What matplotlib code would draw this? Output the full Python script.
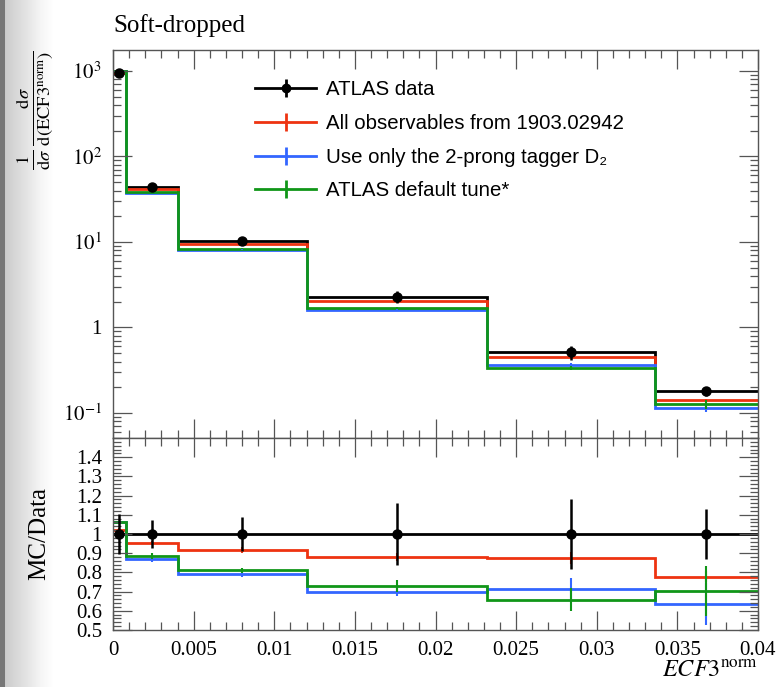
import matplotlib
matplotlib.use('Agg')
import matplotlib.pyplot as plt
import numpy as np
from matplotlib.lines import Line2D
from matplotlib.legend_handler import HandlerTuple
from matplotlib.ticker import MultipleLocator, FixedLocator, FuncFormatter, LogLocator, NullFormatter

plt.rcParams['font.family'] = ['Liberation Serif', 'DejaVu Serif']
plt.rcParams['mathtext.fontset'] = 'stix'

# binning and values
edges = [0, 0.0008, 0.004, 0.012, 0.0232, 0.0336, 0.04]
data = [940, 43.4, 10.3, 2.3, 0.514, 0.18]
data_err = [0.105, 0.075, 0.09, 0.16, 0.18, 0.13]   # relative

ratio_red = [1.02, 0.955, 0.915, 0.88, 0.875, 0.778]
ratio_blue = [1.06, 0.87, 0.79, 0.70, 0.712, 0.635]
ratio_green = [1.06, 0.885, 0.81, 0.73, 0.658, 0.702]
err_red = [0.01, 0.01, 0.015, 0.02, 0.03, 0.03]
err_blue = [0.01, 0.015, 0.015, 0.025, 0.06, 0.11]
err_green = [0.01, 0.015, 0.015, 0.03, 0.06, 0.13]

labels = ["ATLAS data",
          "All observables from 1903.02942",
          "Use only the 2-prong tagger D\u2082",
          "ATLAS default tune*"]
colors = ['black', '#EE3311', '#3366FF', '#109618']

ratio_ticks = [0.5, 0.6, 0.7, 0.8, 0.9, 1.0, 1.1, 1.2, 1.3, 1.4]

edges = np.array(edges)
centers = 0.5 * (edges[1:] + edges[:-1])
data = np.array(data)

W, H = 779, 687
fig = plt.figure(figsize=(W / 100, H / 100), dpi=100)

# grey shadow strip on the left edge of the screenshot
bg = fig.add_axes([0, 0, 60 / W, 1], zorder=-5)
px = np.arange(60)
shade = np.where(px < 5, 0.47, np.interp(px, [5, 25, 40, 52], [0.80, 0.89, 0.965, 1.0]))
bg.imshow(np.repeat(shade[None, :, None], 3, axis=2), aspect='auto', extent=(0, 1, 0, 1))
bg.axis('off')

ax1 = fig.add_axes([113 / W, 1 - 438 / H, 645 / W, 388 / H])
ax2 = fig.add_axes([113 / W, 1 - 630 / H, 645 / W, 192 / H])

mc = [(ratio_red, err_red), (ratio_blue, err_blue), (ratio_green, err_green)]

# main panel
ax1.stairs(data, edges, baseline=None, color='black', lw=2)
for (r, e), c in zip(mc, colors[1:]):
    vals = data * np.array(r)
    ax1.stairs(vals, edges, baseline=None, color=c, lw=2)
    ax1.errorbar(centers, vals, yerr=vals * np.array(e), fmt='none', ecolor=c, elinewidth=1.5)
ax1.errorbar(centers, data, yerr=data * np.array(data_err), fmt='o', color='black',
             ms=6.5, elinewidth=1.8, zorder=5)
ax1.set_yscale('log')
ax1.set_ylim(0.051, 1760)
ax1.yaxis.set_major_locator(LogLocator(base=10, numticks=20))
ax1.yaxis.set_minor_locator(LogLocator(base=10, subs=np.arange(2, 10), numticks=20))
ax1.yaxis.set_minor_formatter(NullFormatter())
ax1.yaxis.set_major_formatter(FuncFormatter(
    lambda v, p: '1' if abs(v - 1) < 1e-9 else r'$10^{%d}$' % round(np.log10(v))))

# ratio panel
ax2.stairs(np.ones(len(data)), edges, baseline=None, color='black', lw=2)
for (r, e), c in zip(mc, colors[1:]):
    ax2.stairs(r, edges, baseline=None, color=c, lw=2)
    ax2.errorbar(centers, r, yerr=e, fmt='none', ecolor=c, elinewidth=1.5)
ax2.errorbar(centers, np.ones(len(data)), yerr=data_err, fmt='o', color='black',
             ms=6.5, elinewidth=1.8, zorder=5)
ax2.set_ylim(0.5, 1.5)
ax2.yaxis.set_major_locator(FixedLocator(ratio_ticks))
ax2.yaxis.set_minor_locator(MultipleLocator(0.02))
ax2.yaxis.set_major_formatter(FuncFormatter(
    lambda v, p: '1' if abs(v - 1) < 1e-9 else '%.1f' % v))

for ax in (ax1, ax2):
    ax.set_xlim(0, 0.04)
    ax.xaxis.set_major_locator(MultipleLocator(0.005))
    ax.xaxis.set_minor_locator(MultipleLocator(0.001))
    ax.tick_params(which='both', direction='in', top=True, right=True,
                   color='#555555', width=0.9, labelsize=15, pad=8)
    ax.tick_params(which='major', length=14)
    ax.tick_params(which='minor', length=6)
    for s in ax.spines.values():
        s.set_color('#555555')
        s.set_linewidth(1.0)

ax1.tick_params(labelbottom=False)
ax2.xaxis.set_major_formatter(FuncFormatter(lambda v, p: '0' if abs(v) < 1e-12 else '%g' % v))

# legend
handles = []
for i, c in enumerate(colors):
    parts = [Line2D([], [], color=c, lw=2),
             Line2D([], [], color=c, marker='|', ms=13, mew=2, ls='none')]
    if i == 0:
        parts.append(Line2D([], [], color=c, marker='o', ms=6, ls='none'))
    handles.append(tuple(parts))
ax1.legend(handles, labels, handler_map={tuple: HandlerTuple(ndivide=1)},
           loc='upper left', bbox_to_anchor=(0.22, 0.922), borderaxespad=0,
           borderpad=0, frameon=False, handlelength=3.0, handletextpad=0.5,
           labelspacing=0.72, prop={'family': ['Liberation Sans', 'DejaVu Sans'], 'size': 14.7})

fig.text(113 / W, 1 - 32 / H, 'Soft-dropped', ha='left', va='baseline', fontsize=18)
fig.text(35 / W, 1 - 50 / H,
         r'$\frac{1}{\mathrm{d}\sigma}\,\frac{\mathrm{d}\sigma}{\mathrm{d}(\mathrm{ECF3}^{\mathrm{norm}})}$',
         rotation=90, ha='center', va='top', fontsize=19)
fig.text(39 / W, 1 - 534 / H, 'MC/Data', rotation=90, ha='center', va='center', fontsize=18)
fig.text(758 / W, 1 - 677 / H, r'$ECF3^{\mathrm{norm}}$', ha='right', va='baseline', fontsize=17.5)

fig.savefig('out.png', dpi=100)
